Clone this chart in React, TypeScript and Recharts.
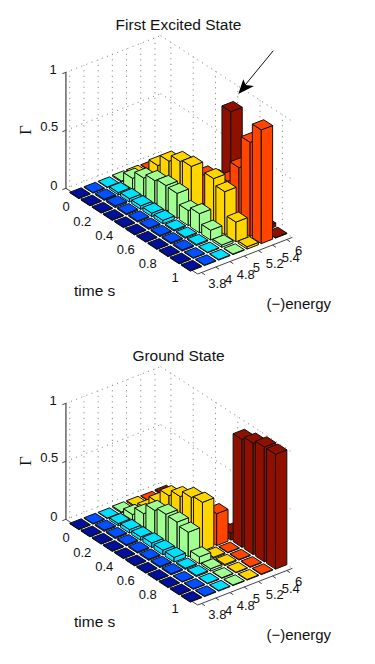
import React from 'react';
import { ScatterChart, Scatter, XAxis, YAxis, ReferenceLine } from 'recharts';

const timeRows = [0, 0.1, 0.2, 0.3, 0.4, 0.5, 0.6, 0.7, 0.8, 0.9, 1];
const timeLabels = ['0', '0.2', '0.4', '0.6', '0.8', '1'];
const energyLabels = ['3.8', '4', '4.8', '5', '5.2', '5.4', '6'];
const zLabels = ['0', '0.5', '1'];
const barColors = ['#00109c', '#0050ff', '#00e0ff', '#a0ff90', '#ffd500', '#ff4500', '#901000'];

// First excited state, one list per energy, one value per time row
const excited38 = [0.005, 0.005, 0.005, 0.005, 0.005, 0.005, 0.005, 0.005, 0.005, 0.005, 0.005];
const excited40 = [0.005, 0.01, 0.015, 0.01, 0.01, 0.01, 0.01, 0.01, 0.01, 0.005, 0.005];
const excited48 = [0.005, 0.02, 0.03, 0.03, 0.03, 0.03, 0.01, 0.01, 0.01, 0.005, 0.005];
const excited50 = [0.01, 0.095, 0.16, 0.2, 0.22, 0.215, 0.13, 0.165, 0.085, 0.02, 0.005];
const excited52 = [0.01, 0.05, 0.22, 0.32, 0.38, 0.4, 0.06, 0.42, 0.37, 0.17, 0.02];
const excited54 = [0.005, 0.02, 0.05, 0.1, 0.2, 0.27, 0.3, 0.35, 0.53, 0.81, 0.98];
const excited60 = [0.01, 0.01, 0.01, 0.02, 0.02, 0.03, 0.84, 0.03, 0.02, 0.03, 0.005];

// Ground state
const ground38 = [0.005, 0.005, 0.005, 0.005, 0.005, 0.005, 0.005, 0.005, 0.005, 0.005, 0.005];
const ground40 = [0.005, 0.01, 0.01, 0.01, 0.01, 0.01, 0.01, 0.01, 0.005, 0.005, 0.005];
const ground48 = [0.005, 0.02, 0.03, 0.03, 0.04, 0.04, 0.04, 0.01, 0.01, 0.005, 0.005];
const ground50 = [0.01, 0.05, 0.12, 0.21, 0.24, 0.235, 0.21, 0.06, 0.02, 0.005, 0.005];
const ground52 = [0.01, 0.05, 0.17, 0.29, 0.345, 0.4, 0.42, 0.01, 0.01, 0.005, 0.005];
const ground54 = [0.005, 0.01, 0.03, 0.05, 0.1, 0.2, 0.275, 0.005, 0.005, 0.005, 0.005];
const ground60 = [0.01, 0.01, 0.01, 0.02, 0.02, 0.03, 0.06, 0.93, 0.96, 0.99, 0.99];

const excitedColumns = [excited38, excited40, excited48, excited50, excited52, excited54, excited60];
const groundColumns = [ground38, ground40, ground48, ground50, ground52, ground54, ground60];

const W = 375;
const H = 331;
const FONT = '"Liberation Sans", Arial, sans-serif';
const HALF = 0.4;

// oblique view of (time row, energy column, height) into the chart's axis units
const project = (i: number, j: number, z: number) => ({
  x: 80 + 11.15 * i + 14.2 * j,
  y: 193.5 + 7.25 * i - 5.5 * j - 116 * z,
});

const I_BACK = -0.92;
const I_FRONT = 10.9;
const J_LEFT = -0.27;
const J_RIGHT = 6.4;

const pts = (list: { x: number; y: number }[]) => list.map(p => `${p.x},${p.y}`).join(' ');

const Bar3 = (props: any) => {
  const { cx, cy, payload } = props;
  const { i, j, value, color } = payload;
  const base = project(i, j, 0);
  const at = (di: number, dj: number, z: number) => {
    const p = project(i + di, j + dj, z);
    return { x: cx + p.x - base.x, y: cy + p.y - base.y };
  };
  const topFace = [at(-HALF, -HALF, value), at(HALF, -HALF, value), at(HALF, HALF, value), at(-HALF, HALF, value)];
  const leftFace = [at(-HALF, -HALF, value), at(HALF, -HALF, value), at(HALF, -HALF, 0), at(-HALF, -HALF, 0)];
  const rightFace = [at(HALF, -HALF, value), at(HALF, HALF, value), at(HALF, HALF, 0), at(HALF, -HALF, 0)];
  const common = { fill: color, stroke: '#111', strokeWidth: 1, strokeLinejoin: 'round' as const };
  return (
    <g>
      <polygon points={pts(leftFace)} {...common} />
      <polygon points={pts(rightFace)} {...common} />
      <polygon points={pts(topFace)} {...common} />
    </g>
  );
};

const Label = (props: any) => {
  const { cx, cy, payload } = props;
  return (
    <text
      x={cx}
      y={cy}
      fontFamily={payload.family || FONT}
      fontSize={payload.size}
      fill="#111"
      textAnchor={payload.anchor}
      dominantBaseline="central"
      transform={payload.rotate ? `rotate(${payload.rotate} ${cx} ${cy})` : undefined}
    >
      {payload.text}
    </text>
  );
};

const Arrow = (props: any) => {
  const { cx, cy } = props;
  return (
    <g>
      <line x1={cx + 35} y1={cy - 43.3} x2={cx + 6} y2={cy - 8} stroke="#111" strokeWidth={1} />
      <polygon points={`${cx},${cy} ${cx + 5},${cy - 14.7} ${cx + 7.4},${cy - 9} ${cx + 15.7},${cy - 8}`} fill="#000" />
    </g>
  );
};

const arrowTip = [{ x: 238.3, y: 94 }];

const timeLabelPos = [[66, 206.7], [82.3, 221], [104.3, 235], [125.7, 249.3], [147.7, 263.3], [175, 277.3]];
const energyLabelPos = [[208.3, 283.3], [225, 279.3], [236.7, 274], [252.7, 267.3], [265.7, 263.3], [281.7, 257.3], [295, 250.7]];
const zLabelPos = [[57.5, 185], [58.3, 126], [56.7, 69]];

const buildLabels = (title: string) => [
  { x: 178.5, y: 24, text: title, size: 15.5, anchor: 'middle' },
  { x: 74, y: 290, text: 'time s', size: 15.5, anchor: 'start' },
  { x: 266.5, y: 303, text: '(\u2212)energy', size: 15, anchor: 'start' },
  { x: 25, y: 130, text: '\u0393', size: 17, anchor: 'middle', rotate: -90, family: '"Liberation Serif", serif' },
  ...timeLabels.map((text, k) => ({ x: timeLabelPos[k][0], y: timeLabelPos[k][1], text, size: 13, anchor: 'middle' })),
  ...energyLabels.map((text, k) => ({ x: energyLabelPos[k][0], y: energyLabelPos[k][1], text, size: 13, anchor: 'start' })),
  ...zLabels.map((text, k) => ({ x: zLabelPos[k][0], y: zLabelPos[k][1], text, size: 13, anchor: 'end' })),
];

const buildBars = (columns: number[][]) => {
  const rows: any[] = [];
  // painter's order: back columns first, then front rows
  for (let j = columns.length - 1; j >= 0; j--) {
    timeRows.forEach((_, i) => {
      const p = project(i, j, 0);
      rows.push({ x: p.x, y: p.y, i, j, value: columns[j][i], color: barColors[j] });
    });
  }
  return rows;
};

const seg = (a: { x: number; y: number }, b: { x: number; y: number }) => [a, b] as any;

const Panel = ({ title, columns, arrow }: { title: string; columns: number[][]; arrow?: boolean }) => {
  const dotted = { stroke: '#777', strokeWidth: 1, strokeDasharray: '1 4.5' };
  const wallLines: any[] = [];
  [0, 0.5, 1].forEach(z => {
    wallLines.push(seg(project(I_BACK, J_LEFT, z), project(I_BACK, J_RIGHT, z)));
    wallLines.push(seg(project(I_BACK, J_RIGHT, z), project(I_FRONT, J_RIGHT, z)));
  });
  energyLabels.forEach((_, j) => wallLines.push(seg(project(I_BACK, j, 0), project(I_BACK, j, 1))));
  timeLabels.forEach((_, k) => wallLines.push(seg(project(k * 2, J_RIGHT, 0), project(k * 2, J_RIGHT, 1))));

  return (
    <ScatterChart width={W} height={H} margin={{ top: 0, right: 0, bottom: 0, left: 0 }}>
      <XAxis type="number" dataKey="x" domain={[0, W]} hide />
      <YAxis type="number" dataKey="y" domain={[0, H]} reversed hide />
      {wallLines.map((s, k) => (
        <ReferenceLine key={k} segment={s} {...dotted} />
      ))}
      <ReferenceLine segment={seg(project(I_BACK, J_LEFT, 0), project(I_BACK, J_LEFT, 1))} stroke="#666" strokeWidth={1.5} />
      <ReferenceLine segment={seg(project(I_BACK, J_LEFT, 0), project(I_FRONT, J_LEFT, 0))} stroke="#444" strokeWidth={1} />
      <ReferenceLine segment={seg(project(I_FRONT, J_LEFT, 0), project(I_FRONT, J_RIGHT, 0))} stroke="#444" strokeWidth={1} />
      {energyLabels.map((_, j) => (
        <ReferenceLine key={j} segment={seg(project(I_FRONT, j, 0), project(I_FRONT + 0.3, j, 0))} stroke="#444" strokeWidth={1} />
      ))}
      {[0, 0.5, 1].map(z => (
        <ReferenceLine key={z} segment={seg(project(I_BACK, J_LEFT, z), project(I_BACK, J_LEFT - 0.25, z))} stroke="#444" strokeWidth={1} />
      ))}
      <Scatter data={buildBars(columns)} shape={Bar3} isAnimationActive={false} />
      <Scatter data={buildLabels(title)} shape={Label} isAnimationActive={false} />
      {arrow && <Scatter data={arrowTip} shape={Arrow} isAnimationActive={false} />}
    </ScatterChart>
  );
};

export default function App() {
  return (
    <div style={{ position: 'absolute', left: 0, top: 0, width: W, height: 664, background: '#fff' }}>
      <Panel title="First Excited State" columns={excitedColumns} arrow />
      <Panel title="Ground State" columns={groundColumns} />
    </div>
  );
}
